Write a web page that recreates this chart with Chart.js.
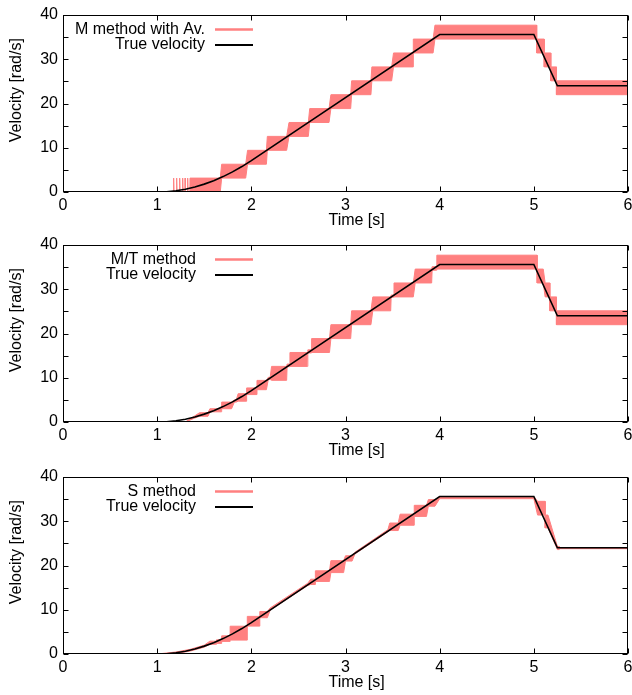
<!DOCTYPE html>
<html><head><meta charset="utf-8">
<script src="https://cdn.jsdelivr.net/npm/chart.js@4/dist/chart.umd.min.js"></script>
<style>
html,body{margin:0;padding:0;background:#fff;width:632px;height:695px;overflow:hidden}
canvas{position:absolute;left:0}
</style></head><body>
<canvas id="c1" width="632" height="230" style="top:0px"></canvas>
<canvas id="c2" width="632" height="230" style="top:230px"></canvas>
<canvas id="c3" width="632" height="230" style="top:462px"></canvas>
<script>
// ---------- data ----------
const xTickValues = [0, 1, 2, 3, 4, 5, 6];
const yTickValues = [0, 5, 10, 15, 20, 25, 30, 35, 40];
const xTitle = 'Time [s]';
const yTitle = 'Velocity [rad/s]';
const panelLabels = ['M method with Av.', 'M/T method', 'S method'];
const trueLabel = 'True velocity';

// true velocity (time [s], velocity [rad/s])
const trueTime = [0, 1.0, 1.1, 1.2, 1.3, 1.4, 1.5, 1.6, 1.7, 1.8, 1.9, 2.0, 4.0, 5.0, 5.25, 6.0];
const trueVel  = [0, 0, 0.07, 0.28, 0.64, 1.14, 1.78, 2.56, 3.48, 4.54, 5.75, 7.1, 35.6, 35.6, 24.0, 24.0];

// measured velocity envelopes: [start time, end time, low value, high value]
const mMethodBlocks = [
  [0, 1.17, 0, 0],
  [1.173, 1.177, 0, 3.14], [1.179, 1.203, 0, 0],
  [1.205, 1.209, 0, 3.14], [1.211, 1.235, 0, 0],
  [1.237, 1.241, 0, 3.14], [1.243, 1.267, 0, 0],
  [1.269, 1.273, 0, 3.14], [1.275, 1.294, 0, 0],
  [1.296, 1.300, 0, 3.14], [1.302, 1.320, 0, 0],
  [1.322, 1.326, 0, 3.14], [1.328, 1.347, 0, 0],
  [1.349, 1.67, 0, 3.14],
  [1.685, 1.94, 3.14, 6.28],
  [1.96, 2.16, 6.28, 9.42],
  [2.17, 2.375, 9.42, 12.57],
  [2.40, 2.605, 12.57, 15.71],
  [2.62, 2.825, 15.71, 18.85],
  [2.845, 3.055, 18.85, 21.99],
  [3.065, 3.27, 21.99, 25.13],
  [3.28, 3.49, 25.13, 28.27],
  [3.51, 3.72, 28.27, 31.42],
  [3.72, 3.93, 31.42, 34.56],
  [3.95, 5.03, 34.56, 37.70],
  [5.03, 5.11, 31.42, 34.56],
  [5.11, 5.18, 28.27, 31.42],
  [5.18, 5.24, 25.13, 28.27],
  [5.24, 6.0, 21.99, 25.13]
];
const mtMethodBlocks = [
  [0, 1.3, 0, 0],
  [1.40, 1.40, 0.9, 1.4],
  [1.45, 1.54, 1.3, 2.1],
  [1.56, 1.68, 2.3, 3.0],
  [1.685, 1.79, 3.0, 4.5],
  [1.82, 1.84, 4.5, 5.0],
  [1.86, 1.95, 4.7, 6.4],
  [1.95, 2.06, 6.2, 7.7],
  [2.06, 2.16, 7.3, 9.4],
  [2.18, 2.20, 9.6, 10.1],
  [2.215, 2.375, 9.42, 12.57],
  [2.38, 2.405, 12.5, 13.1],
  [2.41, 2.595, 12.57, 15.71],
  [2.60, 2.635, 15.6, 16.3],
  [2.64, 2.83, 15.71, 18.85],
  [2.845, 3.055, 18.85, 21.99],
  [3.065, 3.27, 21.99, 25.13],
  [3.29, 3.48, 25.13, 28.27],
  [3.485, 3.51, 28.2, 28.7],
  [3.515, 3.72, 28.27, 31.42],
  [3.74, 3.915, 31.42, 34.56],
  [3.92, 3.965, 34.3, 35.1],
  [3.97, 5.035, 34.56, 37.70],
  [5.035, 5.10, 31.42, 34.56],
  [5.12, 5.17, 28.27, 31.42],
  [5.17, 5.24, 25.13, 28.27],
  [5.24, 6.0, 21.99, 25.13]
];
const sMethodBlocks = [
  [0, 1.0, 0, 0],
  [1.2, 1.2, 0.1, 0.45],
  [1.35, 1.35, 0.65, 1.05],
  [1.5, 1.5, 1.55, 2.0],
  [1.56, 1.63, 2.2, 2.9],
  [1.63, 1.685, 2.4, 3.2],
  [1.685, 1.775, 2.85, 4.1],
  [1.775, 1.957, 3.14, 6.28],
  [1.957, 2.09, 6.3, 8.5],
  [2.09, 2.17, 8.2, 9.6],
  [2.2, 2.2, 9.9, 10.4],
  [2.6, 2.6, 15.5, 16.0],
  [2.63, 2.68, 15.7, 16.9],
  [2.68, 2.83, 16.4, 18.8],
  [2.845, 2.98, 18.4, 21.1],
  [3.0, 3.07, 21.0, 22.2],
  [3.1, 3.1, 22.6, 23.0],
  [3.45, 3.45, 27.6, 28.1],
  [3.47, 3.56, 27.9, 29.6],
  [3.58, 3.73, 29.1, 31.6],
  [3.73, 3.86, 31.1, 33.6],
  [3.88, 3.95, 33.4, 34.9],
  [4.0, 5.0, 35.1, 35.6],
  [5.04, 5.12, 31.4, 34.5],
  [5.12, 5.15, 28.5, 31.4],
  [5.25, 5.27, 23.6, 24.3],
  [5.27, 6.0, 23.8, 24.0]
];

// ---------- styling ----------
const RED = 'rgb(255,128,128)';
const FONT = '"Liberation Sans", Arial, Helvetica, sans-serif';
const FS = 16;

function bandPoints(blocks, idx) {
  const pts = [];
  blocks.forEach(b => { pts.push({x: b[0], y: b[idx]}); pts.push({x: b[1], y: b[idx]}); });
  return pts;
}
const truePoints = trueTime.map((t, i) => ({x: t, y: trueVel[i]}));

// frame + inward ticks on all four sides (gnuplot style), drawn from the scales
const framePlugin = {
  id: 'frame',
  afterDatasetsDraw(chart, args, opts) {
    const ctx = chart.ctx, a = chart.chartArea, sx = chart.scales.x, sy = chart.scales.y;
    const L = opts.len;
    const l = Math.round(a.left) + 0.5, r = Math.round(a.right) - 0.5;
    const t = Math.round(a.top) + 0.5, b = Math.round(a.bottom) - 0.5;
    ctx.save();
    ctx.strokeStyle = '#000';
    ctx.lineWidth = 1;
    ctx.beginPath();
    xTickValues.forEach(v => {
      const p = Math.round(sx.getPixelForValue(v)) + 0.5;
      ctx.moveTo(p, b); ctx.lineTo(p, b - L);
      ctx.moveTo(p, t); ctx.lineTo(p, t + L);
    });
    yTickValues.forEach(v => {
      const p = Math.round(sy.getPixelForValue(v)) + 0.5;
      ctx.moveTo(l, p); ctx.lineTo(l + L, p);
      ctx.moveTo(r, p); ctx.lineTo(r - L, p);
    });
    ctx.stroke();
    ctx.strokeRect(l, t, r - l, b - t);
    ctx.restore();
  }
};

const keyPlugin = {
  id: 'key',
  afterDatasetsDraw(chart, args, opts) {
    const ctx = chart.ctx, a = chart.chartArea;
    ctx.save();
    ctx.font = FS + 'px ' + FONT;
    ctx.textAlign = 'right';
    ctx.textBaseline = 'middle';
    let row = 0;
    chart.data.datasets.forEach(ds => {
      if (!ds.inKey) return;
      const y = a.top + opts.firstRow + row * opts.rowGap;
      ctx.fillStyle = '#000';
      ctx.fillText(ds.label, a.left + opts.textRight, y);
      ctx.strokeStyle = ds.borderColor;
      ctx.lineWidth = ds.keyWidth;
      ctx.beginPath();
      ctx.moveTo(a.left + opts.sampleStart, y);
      ctx.lineTo(a.left + opts.sampleEnd, y);
      ctx.stroke();
      row++;
    });
    ctx.restore();
  }
};

function setTicks(values) {
  return function (scale) { scale.ticks = values.map(v => ({value: v})); };
}
const NB = '\u00a0';

function makeChart(id, label, blocks, textRight) {
  new Chart(document.getElementById(id), {
    type: 'line',
    data: {
      datasets: [
        {label: label, inKey: true, keyWidth: 2.5, data: bandPoints(blocks, 3),
         borderColor: RED, backgroundColor: RED, borderWidth: 1, pointRadius: 0,
         fill: '+1', tension: 0, order: 2},
        {label: 'lower', inKey: false, data: bandPoints(blocks, 2),
         borderColor: RED, backgroundColor: RED, borderWidth: 1, pointRadius: 0,
         fill: false, tension: 0, order: 2},
        {label: trueLabel, inKey: true, keyWidth: 1.8, data: truePoints,
         borderColor: '#000', backgroundColor: '#000', borderWidth: 1.6, pointRadius: 0,
         fill: false, tension: 0, order: 1}
      ]
    },
    options: {
      responsive: false,
      animation: false,
      devicePixelRatio: 1,
      layout: {padding: {top: 15, right: 4, left: 0, bottom: 0}},
      plugins: {
        legend: {display: false},
        tooltip: {enabled: false},
        key: {firstRow: 14.5, rowGap: 15.5, textRight: textRight, sampleStart: 152, sampleEnd: 190},
        frame: {len: 5}
      },
      scales: {
        x: {
          type: 'linear', position: 'bottom', min: 0, max: 6,
          afterBuildTicks: setTicks(xTickValues),
          afterFit(s) { s.height = 38; s.paddingLeft = 0; s.paddingRight = 0; },
          ticks: {color: '#000', font: {family: FONT, size: FS}, padding: 4, maxRotation: 0, autoSkip: false},
          grid: {display: false, drawOnChartArea: false, drawTicks: false},
          border: {display: false},
          title: {display: true, text: NB.repeat(5) + xTitle, color: '#000', font: {family: FONT, size: FS}, padding: {top: 0, bottom: 0}}
        },
        y: {
          type: 'linear', position: 'left', min: 0, max: 40,
          afterBuildTicks: setTicks(yTickValues),
          afterFit(s) { s.width = 63; s.paddingTop = 0; s.paddingBottom = 0; },
          ticks: {color: '#000', font: {family: FONT, size: FS}, padding: 5},
          grid: {display: false, drawOnChartArea: false, drawTicks: false},
          border: {display: false},
          title: {display: true, text: NB.repeat(6) + yTitle, color: '#000', font: {family: FONT, size: FS}, padding: {top: 7, bottom: 0}}
        }
      }
    },
    plugins: [keyPlugin, framePlugin]
  });
}

makeChart('c1', panelLabels[0], mMethodBlocks, 142);
makeChart('c2', panelLabels[1], mtMethodBlocks, 133);
makeChart('c3', panelLabels[2], sMethodBlocks, 133);
</script>
</body></html>
